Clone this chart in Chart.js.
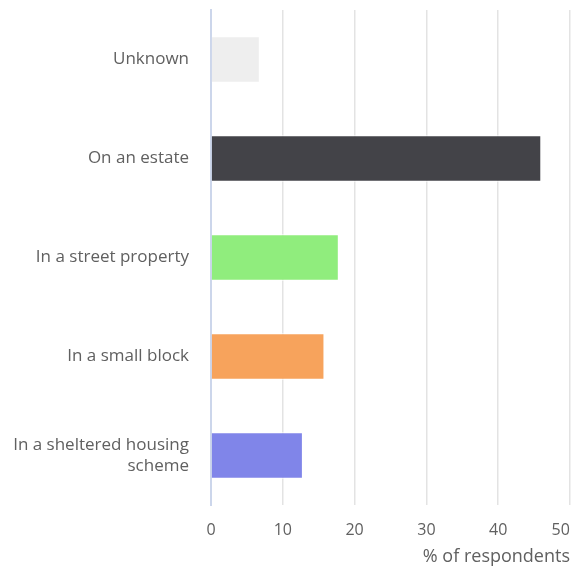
<!DOCTYPE html>
<html>
<head>
<meta charset="utf-8">
<script src="https://cdn.jsdelivr.net/npm/chart.js@4"></script>
<style>
  html, body { margin: 0; padding: 0; background: #fff; }
  #wrap { width: 571px; height: 571px; }
</style>
</head>
<body>
<div id="wrap"><canvas id="myChart" width="571" height="571"></canvas></div>
<script>
// categories and values
const categories = ['Unknown', 'On an estate', 'In a street property', 'In a small block', ['In a sheltered housing', 'scheme']];
const percents = [6.8, 46.0, 17.8, 15.8, 12.8];
const xTicks = [0, 10, 20, 30, 40, 50];

// highcharts-like palette, one per bar
const barColors = ['#eeeeee', '#434348', '#90ed7d', '#f7a35c', '#8085e9'];

const fontFamily = "'Open Sans', sans-serif";

// drop the auto label padding chart.js adds around scales
const noPad = scale => {
    scale.paddingTop = 0;
    scale.paddingBottom = 0;
    scale.paddingLeft = 0;
    scale.paddingRight = 0;
};

const chartData = {
    labels: categories,
    datasets: [{
        data: percents,
        backgroundColor: barColors,
        borderColor: '#ffffff',
        borderWidth: 1,
        categoryPercentage: 0.47,
        barPercentage: 1
    }]
};

const config = {
    type: 'bar',
    data: chartData,
    options: {
        indexAxis: 'y',
        responsive: false,
        animation: false,
        layout: { padding: { top: 10, right: 1, bottom: 0, left: 0 } },
        plugins: {
            legend: { display: false },
            tooltip: { enabled: false }
        },
        scales: {
            x: {
                min: 0,
                max: 50,
                afterBuildTicks: scale => { scale.ticks = xTicks.map(v => ({ value: v })); },
                grid: { color: '#e3e3e3', lineWidth: 1.5, drawTicks: false },
                border: { display: false },
                ticks: {
                    color: '#606060',
                    font: { family: fontFamily, size: 16 },
                    padding: 16,
                    // last label is pulled left so it stays inside the canvas (trailing spaces)
                    callback: (v, i) => i === xTicks.length - 1 ? v + '\u2002\u2002\u2009' : v
                },
                title: {
                    display: true,
                    text: '% of respondents',
                    align: 'end',
                    color: '#606060',
                    font: { family: fontFamily, size: 18 },
                    padding: { top: 2, bottom: 3 }
                },
                afterFit: scale => { scale.height = 66; noPad(scale); }
            },
            y: {
                grid: { display: false, drawTicks: false },
                border: { display: true, color: '#ccd6eb', width: 2 },
                ticks: { color: '#606060', font: { family: fontFamily, size: 17, lineHeight: 1.2 }, padding: 22 },
                afterFit: scale => { scale.width = 211; noPad(scale); }
            }
        }
    }
};

const myChart = new Chart(document.getElementById('myChart'), config);
</script>
</body>
</html>
